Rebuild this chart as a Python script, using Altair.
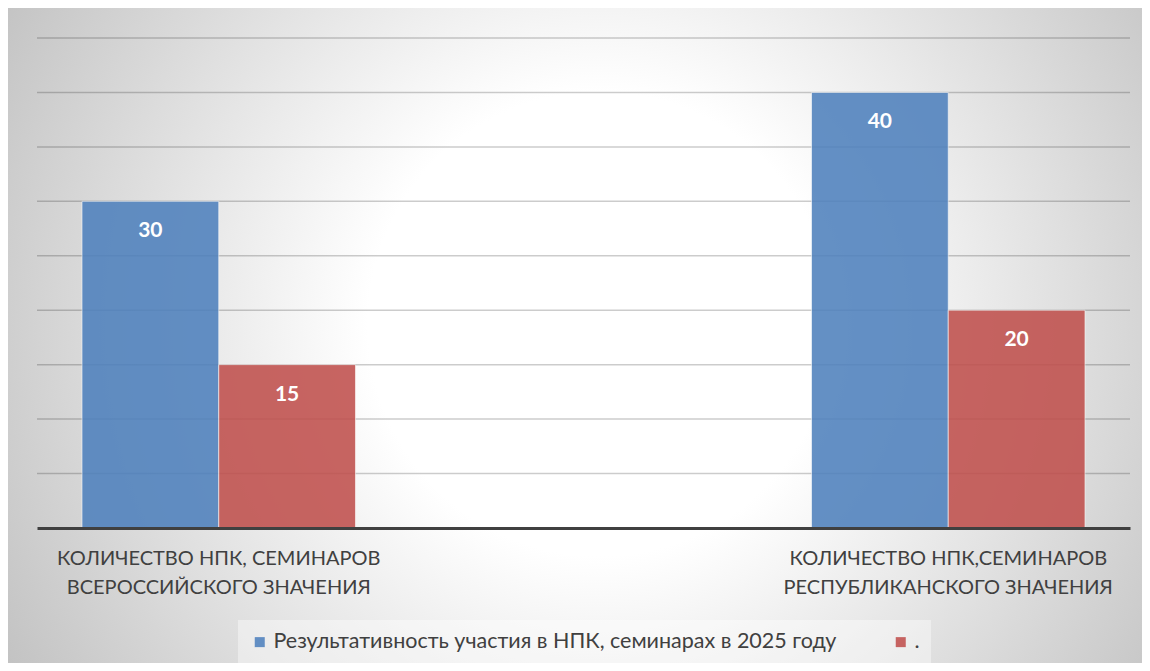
import altair as alt
import pandas as pd

CATEGORIES = [
    "КОЛИЧЕСТВО НПК, СЕМИНАРОВ\nВСЕРОССИЙСКОГО ЗНАЧЕНИЯ",
    "КОЛИЧЕСТВО НПК,СЕМИНАРОВ\nРЕСПУБЛИКАНСКОГО ЗНАЧЕНИЯ",
]
SERIES = ["Результативность участия в НПК, семинарах в 2025 году", "."]
SERIES1_VALUES = [30, 40]
SERIES2_VALUES = [15, 20]
GRID_VALUES = [5, 10, 15, 20, 25, 30, 35, 40, 45]
COLORS = ["#4f81bd", "#c0504d"]

FONT = "Lato"
TEXT_COLOR = "#404040"

rows = []
for i, c in enumerate(CATEGORIES):
    rows.append({"category": c, "series": SERIES[0], "value": SERIES1_VALUES[i]})
    rows.append({"category": c, "series": SERIES[1], "value": SERIES2_VALUES[i]})
df = pd.DataFrame(rows)
grid_df = pd.DataFrame({"grid": GRID_VALUES})
bg_df = pd.DataFrame({"a": [0]})

W, H = 1093, 490

y_scale = alt.Scale(domain=[0, 45], nice=False, zero=True)

x_enc = alt.X(
    "category:N",
    sort=CATEGORIES,
    scale=alt.Scale(paddingInner=0.6251, paddingOuter=0.0617),
    axis=alt.Axis(
        title=None,
        labelExpr="split(datum.label, '\\n')",
        labelAngle=0,
        labelFont=FONT,
        labelFontSize=20,
        labelColor=TEXT_COLOR,
        labelLineHeight=29,
        labelBaseline="top",
        labelPadding=20,
        labelLimit=0,
        ticks=False,
        grid=False,
        domainColor="#404040",
        domainWidth=3,
        zindex=1,
    ),
)
xoff_enc = alt.XOffset("series:N", sort=SERIES, scale=alt.Scale(paddingInner=0, paddingOuter=0))

gradient = {
    "gradient": "radial",
    "x1": 0.522, "y1": 0.49, "r1": 0,
    "x2": 0.522, "y2": 0.49, "r2": 0.62,
    "stops": [
        {"offset": 0, "color": "#ffffff"},
        {"offset": 0.33, "color": "#ffffff"},
        {"offset": 1, "color": "#c0c0c0"},
    ],
}

bg = alt.Chart(bg_df).mark_rect(color=gradient).encode(
    x=alt.value(-29), x2=alt.value(1105), y=alt.value(-30), y2=alt.value(625)
)

grid = alt.Chart(grid_df).mark_rule(color="#000000", opacity=0.2, strokeWidth=1.5).encode(
    y=alt.Y("grid:Q", scale=y_scale, axis=None)
)

bars = alt.Chart(df).mark_bar(
    opacity=0.88, stroke="#ffffff", strokeOpacity=0.6, strokeWidth=1
).encode(
    x=x_enc,
    xOffset=xoff_enc,
    y=alt.Y("value:Q", scale=y_scale, axis=None),
    color=alt.Color(
        "series:N",
        sort=SERIES,
        scale=alt.Scale(domain=SERIES, range=COLORS),
        legend=alt.Legend(
            title=None,
            orient="none",
            legendX=201,
            legendY=582,
            direction="horizontal",
            symbolType="square",
            symbolSize=100,
            symbolStrokeWidth=0,
            labelFont=FONT,
            labelFontSize=21.5,
            labelColor=TEXT_COLOR,
            labelOffset=3,
            labelLimit=0,
            columnPadding=53,
            fillColor="rgba(255,255,255,0.4)",
            padding=11,
        ),
    ),
)

labels = alt.Chart(df).mark_text(
    color="white", fontWeight="bold", fontSize=21, font=FONT, baseline="middle", dy=30
).encode(
    x=alt.X("category:N", sort=CATEGORIES),
    xOffset=alt.XOffset("series:N", sort=SERIES),
    y=alt.Y("value:Q", scale=y_scale, axis=None),
    text=alt.Text("value:Q"),
)

chart = (
    alt.layer(bg, grid, bars, labels)
    .properties(width=W, height=H, padding=0)
    .configure_view(stroke=None)
)

chart.save("out.html", embed_options={"renderer": "svg", "actions": False})
